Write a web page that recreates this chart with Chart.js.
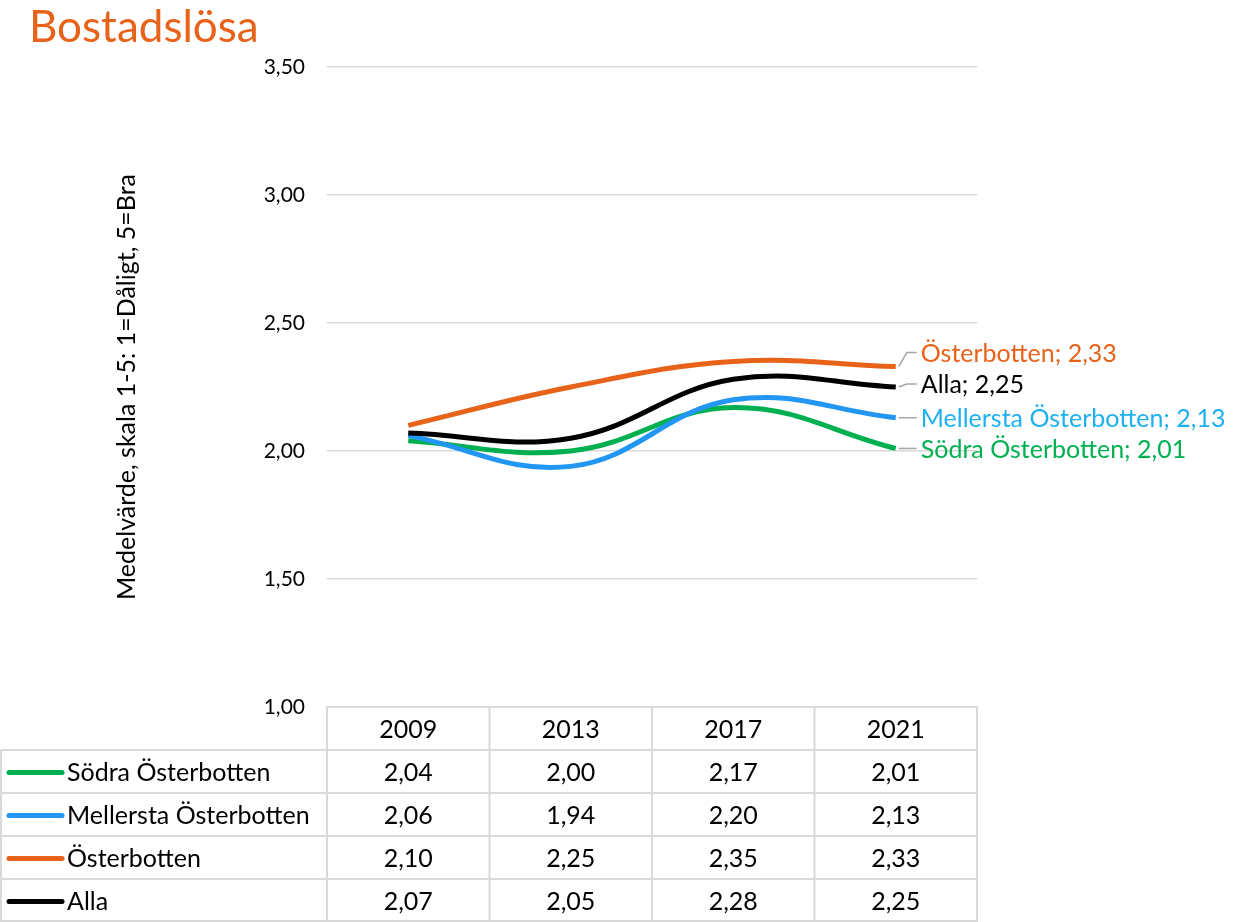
<!DOCTYPE html>
<html>
<head>
<meta charset="utf-8">
<script src="https://cdn.jsdelivr.net/npm/chart.js@4/dist/chart.umd.min.js"></script>
<style>
  html, body { margin: 0; padding: 0; background: #fff; }
  #wrap { width: 1243px; height: 922px; position: relative; }
</style>
</head>
<body>
<div id="wrap"><canvas id="chart"></canvas></div>
<script>
const years = ['2009', '2013', '2017', '2021'];
const seriesNames = ['Södra Österbotten', 'Mellersta Österbotten', 'Österbotten', 'Alla'];
const sodra = [2.04, 2.00, 2.17, 2.01];
const mellersta = [2.06, 1.94, 2.20, 2.13];
const osterbotten = [2.10, 2.25, 2.35, 2.33];
const alla = [2.07, 2.05, 2.28, 2.25];
const seriesColors = ['#00B050', '#2196F3', '#E8631A', '#000000'];
const labelColors = ['#00B050', '#1EB0F0', '#E8631A', '#000000'];

const FONT = 'Lato, "Open Sans", sans-serif';
const fmt = v => v.toFixed(2).replace('.', ',');

// etiketter vid sista punkten + tabellen under diagrammet
const extrasPlugin = {
    id: 'extras',
    afterDraw(chart) {
        const ctx = chart.ctx;
        const area = chart.chartArea;
        const xs = chart.scales.x;

        ctx.save();
        // rubrik
        ctx.fillStyle = '#E8631A';
        ctx.font = '44px ' + FONT;
        ctx.textBaseline = 'alphabetic';
        ctx.textAlign = 'left';
        ctx.fillText('Bostadslösa', 29, 42);

        // dataetiketter
        const labelDy = [0, 0, -14, -3];
        ctx.font = '25px ' + FONT;
        ctx.textBaseline = 'middle';
        chart.data.datasets.forEach((ds, i) => {
            const meta = chart.getDatasetMeta(i);
            const pt = meta.data[meta.data.length - 1];
            const dy = labelDy[i];
            ctx.strokeStyle = '#a6a6a6';
            ctx.lineWidth = 1.5;
            ctx.beginPath();
            ctx.moveTo(pt.x + 3, pt.y);
            ctx.lineTo(pt.x + 11, pt.y + dy);
            ctx.lineTo(pt.x + 21, pt.y + dy);
            ctx.stroke();
            ctx.fillStyle = labelColors[i];
            ctx.fillText(seriesNames[i] + '; ' + fmt(ds.data[ds.data.length - 1]), pt.x + 25, pt.y + dy + 1);
        });

        // tabell
        const rowH = 43;
        const colW = area.width / years.length;
        const top = area.bottom;
        ctx.strokeStyle = '#d9d9d9';
        ctx.lineWidth = 2;
        ctx.strokeRect(area.left, top, area.width, rowH);
        for (let c = 1; c < years.length; c++) {
            ctx.beginPath();
            ctx.moveTo(area.left + c * colW, top);
            ctx.lineTo(area.left + c * colW, top + rowH * 5);
            ctx.stroke();
        }
        for (let r = 1; r <= 4; r++) {
            ctx.beginPath();
            ctx.moveTo(1, top + r * rowH);
            ctx.lineTo(area.right, top + r * rowH);
            ctx.stroke();
        }
        ctx.beginPath();
        ctx.moveTo(1, top + rowH);
        ctx.lineTo(1, top + rowH * 5);
        ctx.moveTo(area.left, top);
        ctx.lineTo(area.left, top + rowH * 5);
        ctx.moveTo(area.right, top);
        ctx.lineTo(area.right, top + rowH * 5);
        ctx.moveTo(1, top + rowH * 5 - 1);
        ctx.lineTo(area.right, top + rowH * 5 - 1);
        ctx.stroke();

        ctx.font = '25px ' + FONT;
        ctx.fillStyle = '#000';
        ctx.textAlign = 'center';
        ctx.textBaseline = 'middle';
        years.forEach((y, c) => {
            ctx.fillText(y, xs.getPixelForValue(c), top + rowH / 2 + 1);
        });
        chart.data.datasets.forEach((ds, i) => {
            const cy = top + rowH * (i + 1) + rowH / 2 + 1;
            ds.data.forEach((v, c) => {
                ctx.textAlign = 'center';
                ctx.fillStyle = '#000';
                ctx.fillText(fmt(v), xs.getPixelForValue(c), cy);
            });
            ctx.strokeStyle = seriesColors[i];
            ctx.lineWidth = 5;
            ctx.lineCap = 'round';
            ctx.beginPath();
            ctx.moveTo(9, cy);
            ctx.lineTo(62, cy);
            ctx.stroke();
            ctx.textAlign = 'left';
            ctx.fillStyle = '#000';
            ctx.fillText(seriesNames[i], 67, cy);
        });
        ctx.restore();
    }
};

const seriesData = [sodra, mellersta, osterbotten, alla];
const ctx = document.getElementById('chart').getContext('2d');
new Chart(ctx, {
    type: 'line',
    data: {
        labels: years,
        datasets: seriesData.map((d, i) => ({
            label: seriesNames[i],
            data: d,
            borderColor: seriesColors[i],
            backgroundColor: seriesColors[i],
            borderWidth: 5,
            pointRadius: 0,
            tension: 0.4,
            fill: false,
            order: i === 3 ? 0 : 4 - i
        }))
    },
    options: {
        responsive: true,
        maintainAspectRatio: false,
        animation: false,
        layout: { padding: { left: 112, top: 67, right: 266, bottom: 215 } },
        scales: {
            x: { type: 'category', display: false, offset: true },
            y: {
                min: 1,
                max: 3.5,
                afterFit: (scale) => { scale.width = 215; },
                border: { display: false },
                grid: { color: '#d9d9d9', lineWidth: 1.5, drawTicks: false },
                ticks: {
                    stepSize: 0.5,
                    padding: 22,
                    color: '#000',
                    font: { family: FONT, size: 21 },
                    callback: v => fmt(v)
                },
                title: {
                    display: true,
                    text: 'Medelvärde, skala 1-5: 1=Dåligt, 5=Bra',
                    color: '#000',
                    font: { family: FONT, size: 25 },
                    padding: { top: 0, bottom: 0 }
                }
            }
        },
        plugins: {
            legend: { display: false },
            tooltip: { enabled: false }
        }
    },
    plugins: [extrasPlugin]
});
</script>
</body>
</html>
